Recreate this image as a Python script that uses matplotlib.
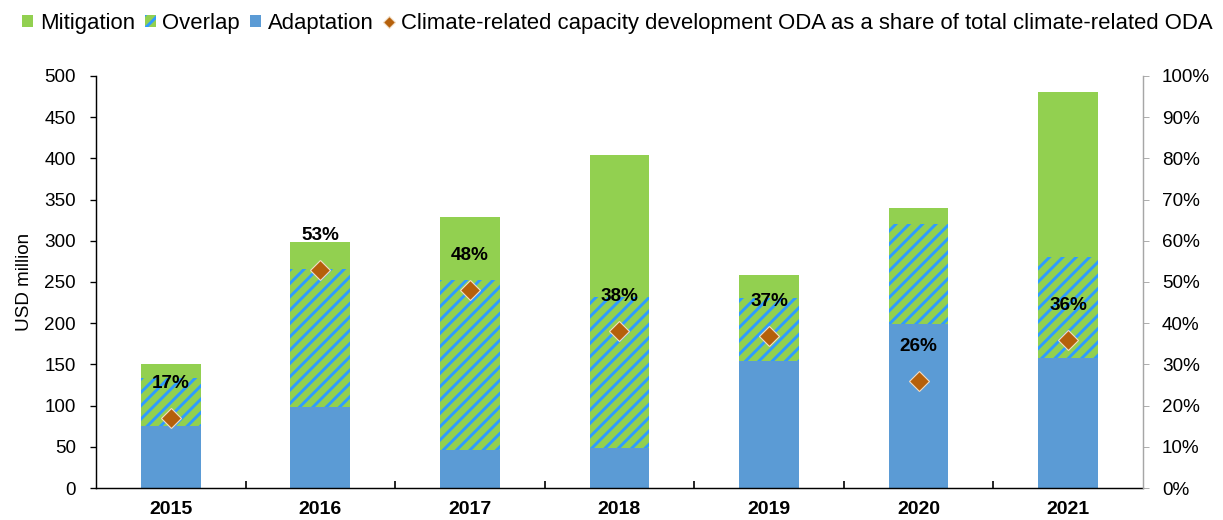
import matplotlib.pyplot as plt
from matplotlib.patches import Patch
from matplotlib.lines import Line2D
from matplotlib.ticker import PercentFormatter, MultipleLocator

years = ['2015', '2016', '2017', '2018', '2019', '2020', '2021']
adaptation = [75, 98, 46, 48, 154, 199, 158]
overlap = [58, 168, 206, 184, 76, 121, 122]
mitigation = [17, 33, 77, 172, 29, 20, 200]
cd_share = [0.17, 0.53, 0.48, 0.38, 0.37, 0.26, 0.36]

green = '#92D050'
blue = '#5B9BD5'
stripe = '#2F9BFF'
brown = '#B5600B'

plt.rcParams['font.family'] = ['Liberation Sans', 'DejaVu Sans']
plt.rcParams['hatch.linewidth'] = 2.6

fig = plt.figure(figsize=(1223 / 80, 520 / 80), dpi=80)
ax = fig.add_axes([0.0785, 0.0615, 0.856, 0.7925])

x = range(len(years))
w = 0.4
ax.bar(x, adaptation, w, color=blue, linewidth=0)
ax.bar(x, overlap, w, bottom=adaptation, facecolor=green, edgecolor=stripe,
       hatch='//', linewidth=0)
bottom3 = [a + o for a, o in zip(adaptation, overlap)]
ax.bar(x, mitigation, w, bottom=bottom3, color=green, linewidth=0)

ax.set_xlim(-0.5, len(years) - 0.5)
ax.set_ylim(0, 500)
ax.yaxis.set_major_locator(MultipleLocator(50))
ax.set_xticks(x)
ax.set_xticklabels(years, fontweight='bold')
ax.set_xticks([i + 0.5 for i in range(len(years) - 1)], minor=True)
ax.tick_params(axis='x', which='major', length=0, labelsize=17.5, pad=12)
ax.tick_params(axis='x', which='minor', direction='in', length=6, width=1.5)
ax.tick_params(axis='y', labelsize=17, length=5, width=1.2, pad=13)
ax.set_ylabel('USD million', fontsize=17, labelpad=10)
for s in ['top', 'right']:
    ax.spines[s].set_visible(False)
ax.spines['left'].set_linewidth(1.3)
ax.spines['bottom'].set_linewidth(1.3)

ax2 = ax.twinx()
ax2.set_ylim(0, 1)
ax2.yaxis.set_major_locator(MultipleLocator(0.1))
ax2.yaxis.set_major_formatter(PercentFormatter(1.0, decimals=0))
ax2.plot(x, cd_share, linestyle='none', marker='D', markersize=13,
         color=brown, markeredgecolor='#F2DDC4', markeredgewidth=1)
for i, v in zip(x, cd_share):
    ax2.annotate(f'{v:.0%}', (i, v), xytext=(0, 31), textcoords='offset points',
                 ha='center', va='center', fontsize=17, fontweight='bold')
ax2.tick_params(axis='y', labelsize=17, length=5, color='#A6A6A6', pad=12)
for s in ['top', 'left', 'bottom']:
    ax2.spines[s].set_visible(False)
ax2.spines['right'].set_color('#A6A6A6')
ax2.spines['right'].set_linewidth(1.3)

handles = [
    Patch(facecolor=green, linewidth=0),
    Patch(facecolor=green, edgecolor=stripe, hatch='//', linewidth=0),
    Patch(facecolor=blue, linewidth=0),
    Line2D([], [], linestyle='none', marker='D', markersize=8, color=brown,
           markeredgecolor='#F2DDC4'),
]
labels = ['Mitigation', 'Overlap', 'Adaptation',
          'Climate-related capacity development ODA as a share of total climate-related ODA']
fig.legend(handles, labels, loc='upper left', bbox_to_anchor=(0.018, 0.975), ncol=4,
           frameon=False, fontsize=19.9, handlelength=0.5, handleheight=0.5,
           handletextpad=0.3, columnspacing=0.45, borderpad=0, borderaxespad=0)

fig.savefig('out.png', dpi=80)
